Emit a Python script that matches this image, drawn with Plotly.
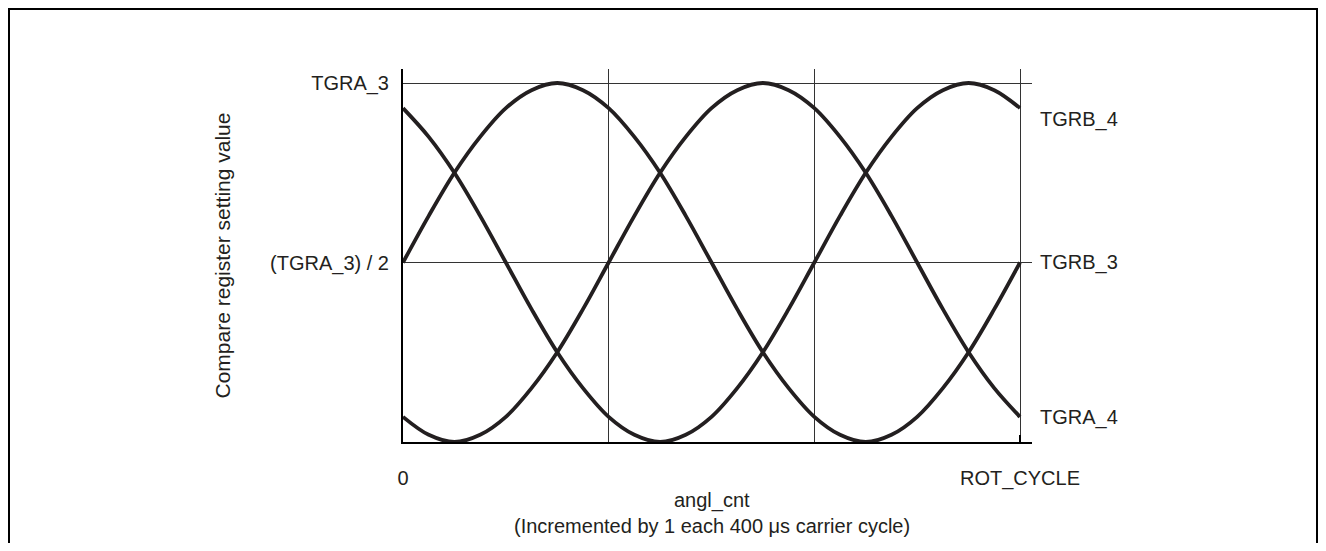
import plotly.graph_objects as go

# angl_cnt as a fraction of ROT_CYCLE (15 degree steps)
angl_cnt = [0.0, 0.0417, 0.0833, 0.125, 0.1667, 0.2083, 0.25, 0.2917, 0.3333,
            0.375, 0.4167, 0.4583, 0.5, 0.5417, 0.5833, 0.625, 0.6667, 0.7083,
            0.75, 0.7917, 0.8333, 0.875, 0.9167, 0.9583, 1.0]

# compare register value as a fraction of TGRA_3
phase_u = [0.5, 0.63, 0.75, 0.85, 0.93, 0.98, 1.0, 0.98, 0.93, 0.85, 0.75, 0.63,
           0.5, 0.37, 0.25, 0.15, 0.07, 0.02, 0.0, 0.02, 0.07, 0.15, 0.25, 0.37, 0.5]
phase_v = [0.93, 0.85, 0.75, 0.63, 0.5, 0.37, 0.25, 0.15, 0.07, 0.02, 0.0, 0.02,
           0.07, 0.15, 0.25, 0.37, 0.5, 0.63, 0.75, 0.85, 0.93, 0.98, 1.0, 0.98, 0.93]
phase_w = [0.07, 0.02, 0.0, 0.02, 0.07, 0.15, 0.25, 0.37, 0.5, 0.63, 0.75, 0.85,
           0.93, 0.98, 1.0, 0.98, 0.93, 0.85, 0.75, 0.63, 0.5, 0.37, 0.25, 0.15, 0.07]

x_ticks = [0, 1]
x_tick_labels = ["0", "ROT_CYCLE"]
x_grid = [1 / 3, 2 / 3, 1]
y_ticks = [0.5, 1]
y_tick_labels = ["(TGRA_3) / 2", "TGRA_3"]
right_labels = ["TGRB_4", "TGRB_3", "TGRA_4"]
right_label_y = [0.897, 0.5, 0.067]

FONT = "Liberation Sans, Arial, sans-serif"
INK = "#231f20"
TXT = "#231f20"

# page has an 8px body margin, keep the figure inside the window
OFF = 8
W, H = 1326 - 2 * OFF, 551 - 2 * OFF
L, T = 403 - OFF, 69 - OFF
R, B = W - (1032 - OFF), H - (442 - OFF)
pw, ph = W - L - R, H - T - B

fig = go.Figure()
for ys in (phase_u, phase_v, phase_w):
    fig.add_trace(go.Scatter(x=angl_cnt, y=ys, mode="lines",
                             line=dict(color=INK, width=3.8, shape="spline"),
                             showlegend=False, hoverinfo="skip"))

fig.update_xaxes(range=[0, 629 / 617], tickvals=x_ticks, ticktext=x_tick_labels,
                 showgrid=False, zeroline=False, showline=True, linecolor="black",
                 linewidth=2, ticks="inside", ticklen=7, tickwidth=2, tickcolor="black",
                 ticklabelstandoff=17, tickfont=dict(size=20, color=TXT),
                 minor=dict(tickvals=x_grid, showgrid=True, gridcolor="#333", gridwidth=1),
                 fixedrange=True)
fig.update_yaxes(range=[0, 373 / 359], tickvals=y_ticks, ticktext=y_tick_labels,
                 showgrid=True, gridcolor="#333", gridwidth=1, zeroline=False,
                 showline=True, linecolor="black", linewidth=2, ticks="",
                 ticklabelstandoff=8, tickfont=dict(size=20, color=TXT),
                 fixedrange=True)

for txt, yv in zip(right_labels, right_label_y):
    fig.add_annotation(x=1, y=yv, xref="x", yref="y", text=txt, showarrow=False,
                       xanchor="left", xshift=18, font=dict(size=20, color=TXT))

fig.add_annotation(x=0, y=0.5, xref="paper", yref="paper", xanchor="center",
                   text="Compare register setting value", textangle=-90, showarrow=False,
                   xshift=-(403 - 222), font=dict(size=21, color=TXT))
fig.add_annotation(x=0.5 * 617 / 629, y=0, xref="paper", yref="paper", yanchor="middle",
                   text="angl_cnt", showarrow=False, yshift=-(500 - 442),
                   font=dict(size=20, color=TXT))
fig.add_annotation(x=0.5 * 617 / 629, y=0, xref="paper", yref="paper", yanchor="middle",
                   text="(Incremented by 1 each 400 \u03bcs carrier cycle)", showarrow=False,
                   yshift=-(526 - 442), font=dict(size=20, color=TXT))

# outer frame, in figure pixels (left/top/right edges; bottom runs off the page)
fx0, fx1, fy0 = 1, W - 1, 1
fig.add_shape(type="rect", xref="paper", yref="paper",
              x0=(fx0 - L) / pw, x1=(fx1 - L) / pw,
              y0=-(H + 20 - T - ph) / ph, y1=(T + ph - fy0) / ph,
              line=dict(color="black", width=2))

fig.update_layout(width=W, height=H, margin=dict(l=L, r=R, t=T, b=B),
                  plot_bgcolor="white", paper_bgcolor="white",
                  font=dict(family=FONT, size=20, color=TXT))

fig.write_html("out.html")
